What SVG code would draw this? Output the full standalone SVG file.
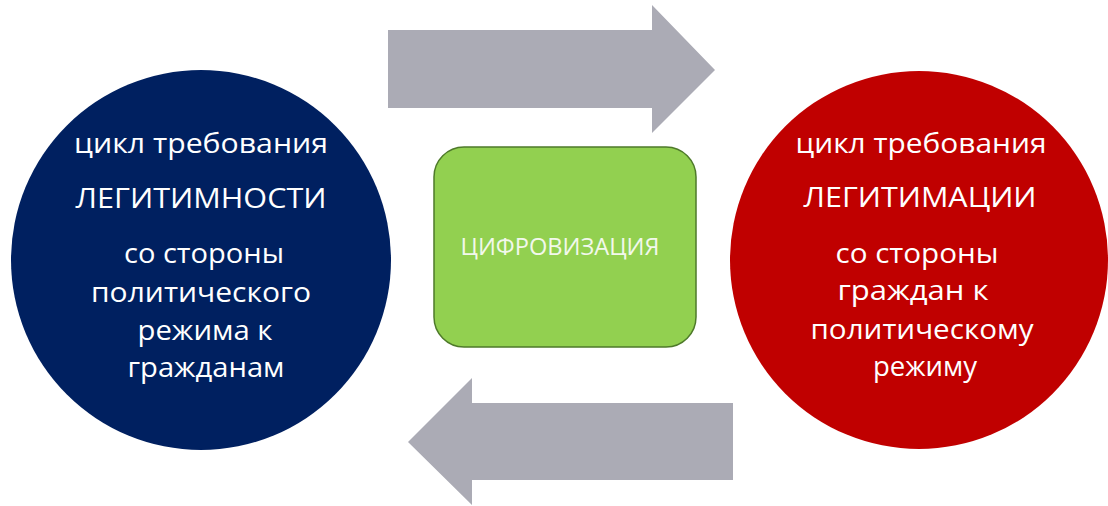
<svg xmlns="http://www.w3.org/2000/svg" width="1108" height="506" viewBox="0 0 1108 506">
<style>
.bg{fill:#ffffff}
.arrow{fill:#ABABB5}
.t{font-family:"Open Sans","Noto Sans","Liberation Sans",sans-serif;fill:#ffffff;text-anchor:middle}
.lc{font-size:28px}
.uc{font-size:27px}
.g{font-family:"Open Sans","Noto Sans","Liberation Sans",sans-serif;fill:#F2F8EC;text-anchor:middle;font-size:24px}
</style>
<rect class="bg" x="0" y="0" width="1108" height="506"/>
<g id="connectors">
<polygon id="arrow-right" class="arrow" points="388,30 652,30 652,5 715,70 652,133 652,108 388,108"/>
<polygon id="arrow-left" class="arrow" points="733,403 472,403 472,378 408,442 472,505 472,480 733,480"/>
</g>
<g id="node-left">
<circle cx="201" cy="260" r="190" fill="#002060"/>
<text class="t lc" x="201" y="153" textLength="254" lengthAdjust="spacingAndGlyphs">цикл требования</text>
<text class="t uc" x="201" y="208" textLength="251" lengthAdjust="spacingAndGlyphs">ЛЕГИТИМНОСТИ</text>
<text class="t lc" x="204" y="263" textLength="160" lengthAdjust="spacingAndGlyphs">со стороны</text>
<text class="t lc" x="201" y="302" textLength="220" lengthAdjust="spacingAndGlyphs">политического</text>
<text class="t lc" x="205" y="340" textLength="135" lengthAdjust="spacingAndGlyphs">режима к</text>
<text class="t lc" x="206" y="377" textLength="157" lengthAdjust="spacingAndGlyphs">гражданам</text>
</g>
<g id="node-right">
<circle cx="919" cy="260" r="189" fill="#C00000"/>
<text class="t lc" x="921" y="153" textLength="251" lengthAdjust="spacingAndGlyphs">цикл требования</text>
<text class="t uc" x="920" y="207" textLength="233" lengthAdjust="spacingAndGlyphs">ЛЕГИТИМАЦИИ</text>
<text class="t lc" x="917" y="263" textLength="163" lengthAdjust="spacingAndGlyphs">со стороны</text>
<text class="t lc" x="913" y="300" textLength="151" lengthAdjust="spacingAndGlyphs">граждан к</text>
<text class="t lc" x="922" y="339" textLength="223" lengthAdjust="spacingAndGlyphs">политическому</text>
<text class="t lc" x="925" y="376" textLength="104" lengthAdjust="spacingAndGlyphs">режиму</text>
</g>
<g id="node-center">
<rect x="434" y="147" width="262" height="200" rx="30" ry="30" fill="#92D050" stroke="#4E7A2A" stroke-width="1.5"/>
<text class="g" x="560" y="255" textLength="199" lengthAdjust="spacingAndGlyphs">ЦИФРОВИЗАЦИЯ</text>
</g>
</svg>
